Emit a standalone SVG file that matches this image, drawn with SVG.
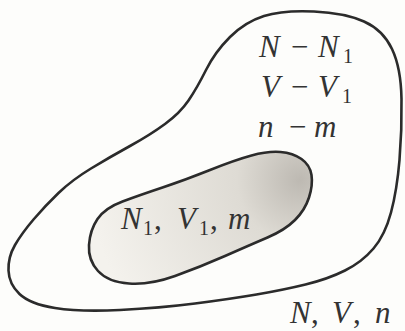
<svg xmlns="http://www.w3.org/2000/svg" width="405" height="331" viewBox="0 0 405 331">
<style>
.t{font-family:"Liberation Serif","Times New Roman",serif;font-style:italic;font-size:31px;fill:#333}
.u{font-style:normal}
.s{font-style:normal;font-size:20px}
.line{fill:none;stroke:#2b2b2b;stroke-width:2.6;stroke-linejoin:round}
</style>
<defs>
<radialGradient id="g" cx="300" cy="180" r="210" gradientUnits="userSpaceOnUse">
<stop offset="0" stop-color="#bdb9b2"/>
<stop offset="0.3" stop-color="#dedbd4"/>
<stop offset="1" stop-color="#f4f2ed"/>
</radialGradient>
</defs>
<rect width="405" height="331" fill="#fdfdfb"/>
<g id="outer">
<path class="line" d="M 314,11.5 Q 345,13 364,21.5 Q 383,30 392,49 Q 401,68 401.5,99 Q 402,130 399.5,160 Q 397,190 391,212.5 Q 385,235 373.5,248.5 Q 362,262 345,270.5 Q 328,279 305.5,284.5 Q 283,290 256.5,294.5 Q 230,299 195,303.5 Q 160,308 120,310 Q 80,312 55,308 Q 30,304 19.5,294 Q 9,284 8.5,270.5 Q 8,257 15,245 Q 22,233 33.5,219.5 Q 45,206 58.5,193 Q 72,180 91,168.5 Q 110,157 130,146 Q 150,135 165,124 Q 180,113 188.5,100.5 Q 197,88 206,70 Q 215,52 230,37 Q 245,22 264,16 Q 283,10 314,11.5 Z"/>
<text class="t" x="259" y="57">N<tspan class="u" x="291">−</tspan><tspan x="318">N</tspan><tspan class="s" x="343" dy="6">1</tspan></text>
<text class="t" x="261" y="97">V<tspan class="u" x="291">−</tspan><tspan x="318">V</tspan><tspan class="s" x="342" dy="6">1</tspan></text>
<text class="t" x="258" y="137">n<tspan class="u" x="289">−</tspan><tspan x="314">m</tspan></text>
<text class="t" x="290" y="323">N<tspan class="u" x="311">,</tspan><tspan x="332">V</tspan><tspan class="u" x="353">,</tspan><tspan x="375">n</tspan></text>
</g>
<g id="inner">
<path class="line" style="fill:url(#g)" stroke-width="2.2" d="M 301.5,159 Q 310,165 311.5,175 Q 313,185 309,197.5 Q 305,210 295,220 Q 285,230 267.5,237.5 Q 250,245 225,256 Q 200,267 175,276 Q 150,285 129,283.5 Q 108,282 98,271 Q 88,260 89,245 Q 90,230 97.5,219 Q 105,208 122.5,201.5 Q 140,195 162.5,187.5 Q 185,180 210,170 Q 235,160 251.5,155.5 Q 268,151 280.5,152 Q 293,153 301.5,159 Z"/>
<text class="t" x="121" y="229">N<tspan class="s" x="143" dy="6">1</tspan><tspan class="u" x="154" dy="-6">,</tspan><tspan x="177">V</tspan><tspan class="s" x="199" dy="6">1</tspan><tspan class="u" x="210" dy="-6">,</tspan><tspan x="228">m</tspan></text>
</g>
<g id="connectors"/>
</svg>
